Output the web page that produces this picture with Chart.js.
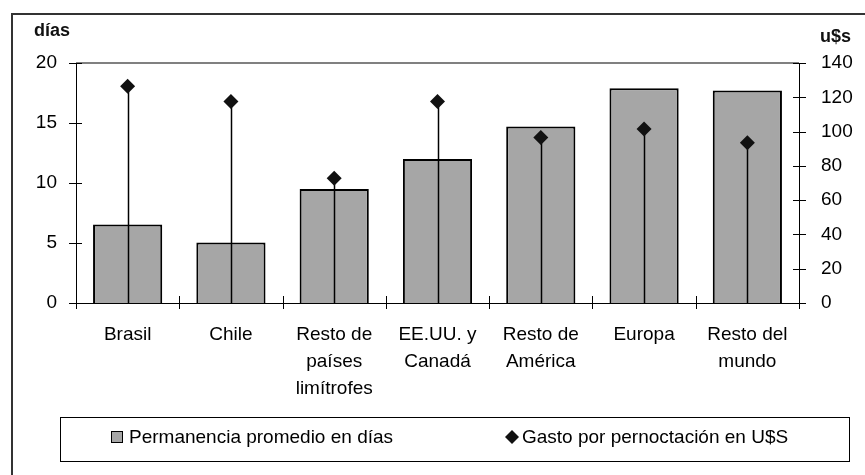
<!DOCTYPE html>
<html>
<head>
<meta charset="utf-8">
<script src="https://cdn.jsdelivr.net/npm/chart.js@4/dist/chart.umd.min.js"></script>
<style>
  body{margin:0;background:#fff;}
  canvas{display:block;}
</style>
</head>
<body>
<canvas id="chart" width="865" height="475"></canvas>
<script>
// --- Data
const categories = [['Brasil'], ['Chile'], ['Resto de','países','limítrofes'], ['EE.UU. y','Canadá'], ['Resto de','América'], ['Europa'], ['Resto del','mundo']];
const diasValues = [6.55, 5.05, 9.5, 12.0, 14.7, 17.9, 17.7];
const gastoValues = [126.5, 117.5, 72.7, 117.5, 96.5, 101.5, 93.5];
const diasTicks = [0, 5, 10, 15, 20];
const usdTicks = [0, 20, 40, 60, 80, 100, 120, 140];
const seriesNames = ['Permanencia promedio en días', 'Gasto por pernoctación en U$S'];

const FONT = '"Liberation Sans", Arial, sans-serif';
const BAR_GRAY = '#a6a6a6';

// --- Frame, cross ticks, drop lines, axis titles and legend box
const decor = {
  id: 'decor',
  beforeDraw(chart){
    const c = chart.ctx;
    c.save();
    c.fillStyle = '#fff'; c.fillRect(0,0,chart.width,chart.height);
    c.strokeStyle = '#333'; c.lineWidth = 2;
    c.beginPath(); c.moveTo(12,chart.height); c.lineTo(12,14); c.lineTo(chart.width,14); c.stroke();
    c.restore();
  },
  beforeDatasetsDraw(chart){
    const c = chart.ctx, a = chart.chartArea;
    c.save();
    c.strokeStyle = '#808080'; c.lineWidth = 2;
    c.beginPath(); c.moveTo(a.left, a.top); c.lineTo(a.right, a.top); c.stroke();
    c.restore();
  },
  beforeDatasetDraw(chart, args){
    if(args.index !== 1) return;
    const c = chart.ctx, bottom = chart.scales.y1.getPixelForValue(0);
    c.save();
    c.strokeStyle = '#000'; c.lineWidth = 1.5;
    args.meta.data.forEach(p=>{
      c.beginPath(); c.moveTo(Math.round(p.x)+0.5, p.y); c.lineTo(Math.round(p.x)+0.5, bottom); c.stroke();
    });
    c.restore();
  },
  afterDraw(chart){
    const c = chart.ctx, a = chart.chartArea;
    const y = chart.scales.y, y1 = chart.scales.y1, x = chart.scales.x;
    c.save();
    c.strokeStyle = '#000'; c.lineWidth = 1;
    diasTicks.forEach(v=>{
      const py = Math.round(y.getPixelForValue(v))+0.5;
      c.beginPath(); c.moveTo(a.left-7, py); c.lineTo(a.left+6, py); c.stroke();
    });
    usdTicks.forEach(v=>{
      const py = Math.round(y1.getPixelForValue(v))+0.5;
      c.beginPath(); c.moveTo(a.right-6, py); c.lineTo(a.right+7, py); c.stroke();
    });
    const xs = [a.left];
    for(let i=1;i<categories.length;i++) xs.push((x.getPixelForValue(i-1)+x.getPixelForValue(i))/2);
    xs.push(a.right);
    xs.forEach(px=>{
      px = Math.round(px)+0.5;
      c.beginPath(); c.moveTo(px, a.bottom-7); c.lineTo(px, a.bottom+6); c.stroke();
    });

    // axis titles
    c.fillStyle = '#111';
    c.font = 'bold 18px ' + FONT;
    c.textBaseline = 'middle';
    c.textAlign = 'left';
    c.fillText('días', 34, 31);
    c.fillText('u$s', 820, 37);

    // legend
    c.strokeStyle = '#000'; c.lineWidth = 1;
    c.strokeRect(60.5, 417.5, 789, 44);
    c.fillStyle = BAR_GRAY;
    c.fillRect(111.5, 431.5, 11, 11);
    c.strokeRect(111.5, 431.5, 11, 11);
    c.fillStyle = '#111';
    c.beginPath(); c.moveTo(512,430); c.lineTo(519,437); c.lineTo(512,444); c.lineTo(505,437); c.closePath(); c.fill();
    c.font = '19px ' + FONT;
    c.fillStyle = '#000';
    c.fillText(seriesNames[0], 129, 438);
    c.fillText(seriesNames[1], 522, 438);
    c.restore();
  }
};

const ctx = document.getElementById('chart').getContext('2d');
new Chart(ctx, {
  type: 'bar',
  data: {
    labels: categories,
    datasets: [
      {label: seriesNames[0], data: diasValues, backgroundColor: BAR_GRAY, borderColor: '#000', borderWidth: 2,
       barPercentage: 0.67, categoryPercentage: 1, yAxisID: 'y', order: 2},
      {type: 'line', label: seriesNames[1], data: gastoValues, showLine: false, yAxisID: 'y1', order: 1,
       pointStyle: 'rectRot', pointRadius: 7.5, pointBackgroundColor: '#111', pointBorderColor: '#111', pointBorderWidth: 0}
    ]
  },
  options: {
    responsive: false,
    animation: false,
    layout: {padding: {top: 63, left: 0, right: 0, bottom: 0}},
    plugins: {legend: {display: false}, tooltip: {enabled: false}},
    scales: {
      x: {
        grid: {display: false, offset: true},
        border: {display: true, color: '#000', width: 1},
        ticks: {color: '#000', font: {family: FONT, size: 19, lineHeight: 1.42}, padding: 10, maxRotation: 0, autoSkip: false},
        afterFit(s){ s.height = 475 - 63 - 240; }
      },
      y: {
        position: 'left', min: 0, max: 20,
        afterBuildTicks(s){ s.ticks = diasTicks.map(v=>({value: v})); },
        grid: {display: false},
        border: {display: true, color: '#000', width: 1},
        ticks: {color: '#000', font: {family: FONT, size: 19}, padding: 11},
        afterFit(s){ s.width = 76; }
      },
      y1: {
        position: 'right', min: 0, max: 140,
        afterBuildTicks(s){ s.ticks = usdTicks.map(v=>({value: v})); },
        grid: {display: false},
        border: {display: true, color: '#000', width: 1},
        ticks: {color: '#000', font: {family: FONT, size: 19}, padding: 14},
        afterFit(s){ s.width = 865 - 799; }
      }
    }
  },
  plugins: [decor]
});
</script>
</body>
</html>
